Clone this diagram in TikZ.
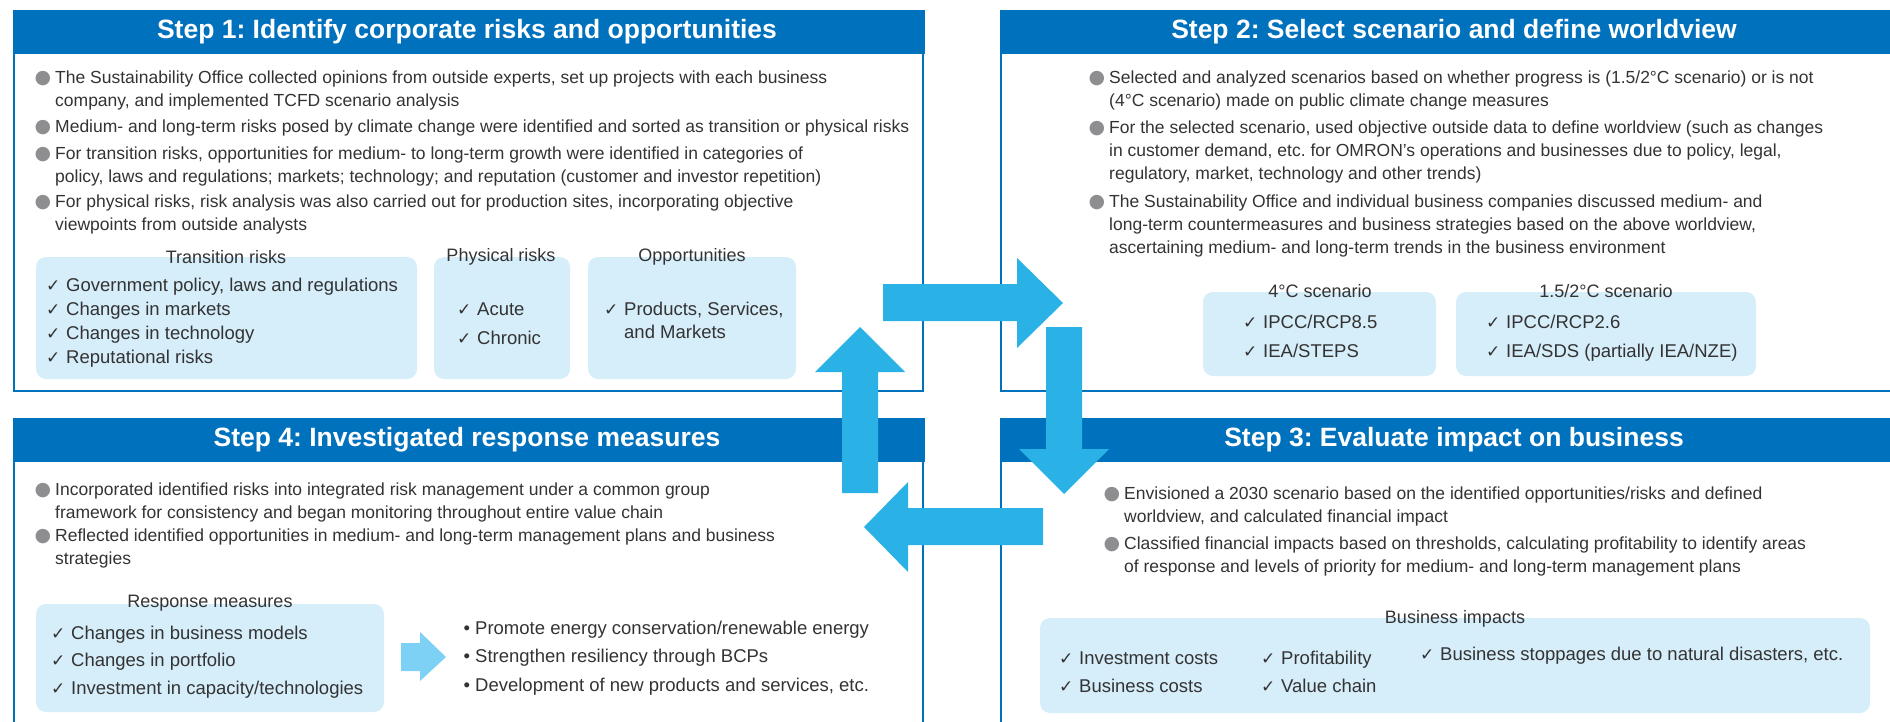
\documentclass[tikz,border=0pt]{standalone}
\usepackage{fontspec}
\setmainfont{Liberation Sans}
\newfontfamily\symfont{DejaVu Sans}
\frenchspacing

\definecolor{stepblue}{RGB}{0,113,188}
\definecolor{flowblue}{RGB}{42,178,231}
\definecolor{lightflow}{RGB}{125,209,245}
\definecolor{panelblue}{RGB}{214,237,250}
\definecolor{dotgray}{RGB}{142,142,145}
\definecolor{textgray}{RGB}{51,51,51}

% bullet marks hanging left of the text
\newcommand{\bul}{\strut\llap{\textcolor{dotgray}{\symfont\fontsize{19}{19}\selectfont ●}\hspace{4pt}}}
\newcommand{\chk}{\strut\llap{\makebox[20pt][l]{\symfont\fontsize{17}{17}\selectfont ✓}}}
\newcommand{\dotb}{\strut\llap{•\hspace{5pt}}}

\begin{document}
\begin{tikzpicture}[x=1pt, y=-1pt,
    frame/.style={draw=stepblue, line width=2.4pt},
    band/.style={fill=stepblue},
    head/.style={text=white, font=\bfseries\fontsize{26.5}{26.5}\selectfont},
    txt/.style={anchor=north west, inner sep=0pt, align=left, text=textgray, font=\fontsize{17.5}{23}\selectfont},
    item/.style={txt, font=\fontsize{18.5}{#1}\selectfont},
    panel/.style={fill=panelblue, rounded corners=10pt},
    ptitle/.style={inner sep=0pt, text=textgray, font=\fontsize{18}{18}\selectfont},
    flow/.style={fill=flowblue}]
  \useasboundingbox (0,0) rectangle (1890,722);

  % Step 1
  \fill[band] (13,10) rectangle (925,54);
  \draw[frame] (14,54) -- (14,391) -- (923,391) -- (923,54);
  \node[head] (h1) at (467,32) {Step 1: Identify corporate risks and opportunities};
  \node[txt] (s1a) at (55,67) {\bul The Sustainability Office collected opinions from outside experts, set up projects with each business\\company, and implemented TCFD scenario analysis};
  \node[txt] (s1b) at (55,116) {\bul Medium- and long-term risks posed by climate change were identified and sorted as transition or physical risks};
  \node[txt] (s1c) at (55,143) {\bul For transition risks, opportunities for medium- to long-term growth were identified in categories of\\policy, laws and regulations; markets; technology; and reputation (customer and investor repetition)};
  \node[txt] (s1d) at (55,191) {\bul For physical risks, risk analysis was also carried out for production sites, incorporating objective\\viewpoints from outside analysts};

  \fill[panel] (36,257) rectangle (417,379);
  \node[ptitle] (trans) at (226,257) {Transition risks};
  \node[item=24] (transl) at (66,274) {\chk Government policy, laws and regulations\\\chk Changes in markets\\\chk Changes in technology\\\chk Reputational risks};
  \fill[panel] (434,257) rectangle (570,379);
  \node[ptitle] (phys) at (501,257) {Physical risks};
  \node[item=29] (physl) at (477,295) {\chk Acute\\\chk Chronic};
  \fill[panel] (588,257) rectangle (796,379);
  \node[ptitle] (opp) at (692,257) {Opportunities};
  \node[item=23] (oppl) at (624,299) {\chk Products, Services,\\and Markets};

  % Step 2
  \fill[band] (1000,10) rectangle (1900,54);
  \draw[frame] (1001,54) -- (1001,391) -- (1900,391);
  \node[head] (h2) at (1454,32) {Step 2: Select scenario and define worldview};
  \node[txt] (s2a) at (1109,67) {\bul Selected and analyzed scenarios based on whether progress is (1.5/2°C scenario) or is not\\(4°C scenario) made on public climate change measures};
  \node[txt] (s2b) at (1109,117) {\bul For the selected scenario, used objective outside data to define worldview (such as changes\\in customer demand, etc. for OMRON’s operations and businesses due to policy, legal,\\regulatory, market, technology and other trends)};
  \node[txt] (s2c) at (1109,191) {\bul The Sustainability Office and individual business companies discussed medium- and\\long-term countermeasures and business strategies based on the above worldview,\\ascertaining medium- and long-term trends in the business environment};

  \fill[panel] (1203,292) rectangle (1436,376);
  \node[ptitle] (four) at (1320,291) {4°C scenario};
  \node[item=29] (fourl) at (1263,308) {\chk IPCC/RCP8.5\\\chk IEA/STEPS};
  \fill[panel] (1456,292) rectangle (1756,376);
  \node[ptitle] (two) at (1606,291) {1.5/2°C scenario};
  \node[item=29] (twol) at (1506,308) {\chk IPCC/RCP2.6\\\chk IEA/SDS (partially IEA/NZE)};

  % Step 3
  \fill[band] (1000,418) rectangle (1900,462);
  \draw[frame] (1001,462) -- (1001,730);
  \node[head] (h3) at (1454,440) {Step 3: Evaluate impact on business};
  \node[txt] (s3a) at (1124,483) {\bul Envisioned a 2030 scenario based on the identified opportunities/risks and defined\\worldview, and calculated financial impact};
  \node[txt] (s3b) at (1124,533) {\bul Classified financial impacts based on thresholds, calculating profitability to identify areas\\of response and levels of priority for medium- and long-term management plans};

  \fill[panel] (1040,618) rectangle (1870,713);
  \node[ptitle] (imp) at (1455,619) {Business impacts};
  \node[item=28] (impa) at (1079,645) {\chk Investment costs\\\chk Business costs};
  \node[item=28] (impb) at (1281,645) {\chk Profitability\\\chk Value chain};
  \node[item=23] (impc) at (1440,644) {\chk Business stoppages due to natural disasters, etc.};

  % Step 4
  \fill[band] (13,418) rectangle (925,462);
  \draw[frame] (14,462) -- (14,730);
  \draw[frame] (923,462) -- (923,730);
  \node[head] (h4) at (467,440) {Step 4: Investigated response measures};
  \node[txt] (s4a) at (55,479) {\bul Incorporated identified risks into integrated risk management under a common group\\framework for consistency and began monitoring throughout entire value chain};
  \node[txt] (s4b) at (55,525) {\bul Reflected identified opportunities in medium- and long-term management plans and business\\strategies};

  \fill[panel] (36,604) rectangle (384,712);
  \node[ptitle] (resp) at (210,603) {Response measures};
  \node[item=27.5] (respl) at (71,620) {\chk Changes in business models\\\chk Changes in portfolio\\\chk Investment in capacity/technologies};
  \fill[lightflow] (401,643) -- (420,643) -- (420,632) -- (446,657) -- (420,681) -- (420,671) -- (401,671) -- cycle;
  \node[item=28.5] (acts) at (475,614) {\dotb Promote energy conservation/renewable energy\\\dotb Strengthen resiliency through BCPs\\\dotb Development of new products and services, etc.};

  % cycle arrows
  \fill[flow] (883,284) -- (1017,284) -- (1017,258) -- (1063,303) -- (1017,348) -- (1017,321) -- (883,321) -- cycle;
  \fill[flow] (1046,327) -- (1082,327) -- (1082,449) -- (1109,449) -- (1064,494) -- (1019,449) -- (1046,449) -- cycle;
  \fill[flow] (1043,508) -- (908,508) -- (908,482) -- (864,527) -- (908,572) -- (908,545) -- (1043,545) -- cycle;
  \fill[flow] (842,493) -- (842,372) -- (815,372) -- (860,327) -- (905,372) -- (878,372) -- (878,493) -- cycle;
\end{tikzpicture}
\end{document}
